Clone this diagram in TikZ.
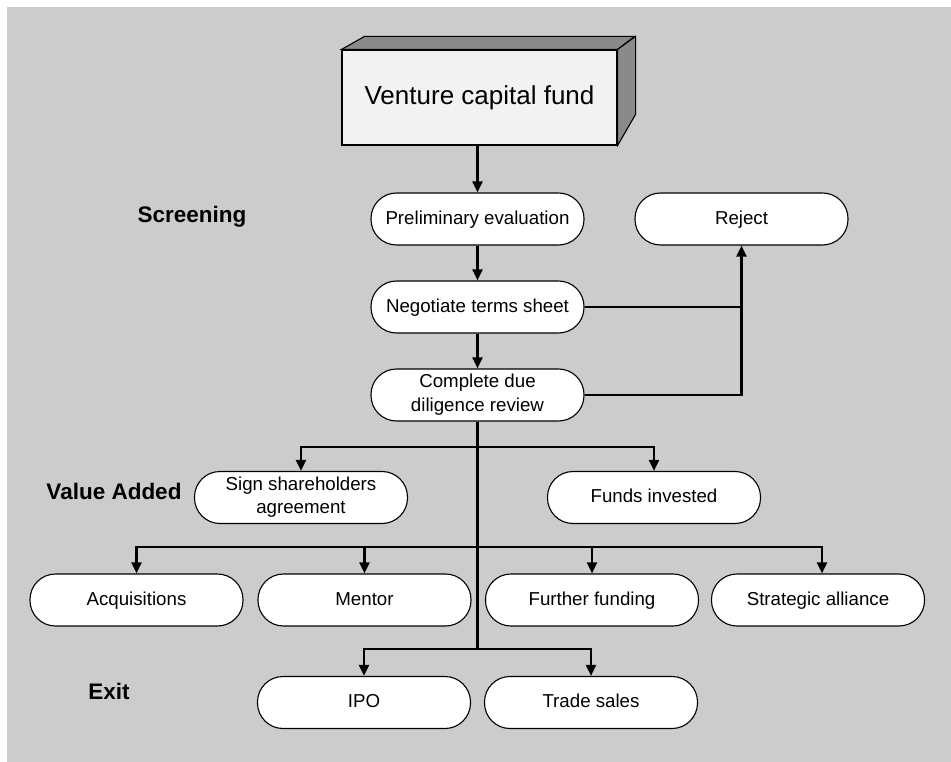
\documentclass[tikz,border=0pt]{standalone}
\usepackage{fontspec}
\setmainfont{Liberation Sans}
\usetikzlibrary{arrows.meta,calc}
\definecolor{bg}{HTML}{CCCCCC}
\definecolor{frontface}{HTML}{F2F2F2}
\definecolor{sideface}{HTML}{8A8A8A}
\newcommand\mytopstrut{\rule{0pt}{15pt}}
\newcommand\mybotstrut{\rule[-4.5pt]{0pt}{4.5pt}}
\tikzset{
  pill/.style={draw=black, line width=1.1pt, fill=white, rounded corners=25.5pt,
    minimum width=213pt, minimum height=52pt, inner sep=0pt, align=center,
    font=\fontsize{18.7}{23.5}\selectfont,
    execute at begin node=\mytopstrut, execute at end node=\mybotstrut},
  phase/.style={font=\fontsize{22.5}{26}\selectfont\bfseries},
  link/.style={line width=2.4pt, draw=black},
  arr/.style={link, -{Triangle[length=11pt,width=10pt]}},
}
\begin{document}
\begin{tikzpicture}[x=1pt,y=-1pt]
\useasboundingbox (0,0) rectangle (951,762);
\fill[white] (0,0) rectangle (951,762);
\fill[bg] (7,7) rectangle (951,762);

% 3D box
\node[draw=black, line width=1.1pt, fill=frontface, minimum width=275pt, minimum height=95pt,
      inner sep=0pt, font=\fontsize{26}{30}\selectfont] (vcf) at (479.5,97.5) {Venture capital fund};
\draw[line width=1.1pt, fill=sideface] (vcf.north west) -- ++(23,-13) -- ++(270,0) -- (vcf.north east) -- cycle;
\draw[line width=1.1pt, fill=sideface] (vcf.north east) -- ++(18,-13) -- ++(0,78) -- (vcf.south east) -- cycle;

% labels
\node[phase] (lscr) at (192,217) {Screening};
\node[phase] (lval) at (114,491) {Value Added};
\node[phase] (lexit) at (109,691) {Exit};

% boxes
\node[pill] (pre) at (477.5,219) {Preliminary evaluation};
\node[pill] (rej) at (741.5,219) {Reject};
\node[pill] (neg) at (477.5,307) {Negotiate terms sheet};
\node[pill] (cdd) at (477.5,395) {Complete due\\diligence review};
\node[pill] (sha) at (301,497.5) {Sign shareholders\\agreement};
\node[pill] (fun) at (654,497.5) {Funds invested};
\node[pill] (acq) at (136.5,600) {Acquisitions};
\node[pill] (men) at (364.5,600) {Mentor};
\node[pill] (fur) at (592,600) {Further funding};
\node[pill] (str) at (818,600) {Strategic alliance};
\node[pill] (ipo) at (364,702.5) {IPO};
\node[pill] (tra) at (591,702.5) {Trade sales};

% junctions
\coordinate (j1) at (477.5,447);
\coordinate (j2) at (477.5,547);
\coordinate (j3) at (477.5,649);

% connectors
\draw[arr] (pre.north |- vcf.south) -- (pre.north);
\draw[arr] (pre) -- (neg);
\draw[arr] (neg) -- (cdd);
\draw[link] (neg.east) -- (neg.east -| rej.south);
\draw[arr] (cdd.east) -| (rej.south);
\draw[link] (cdd.south) -- (j3);
\draw[arr] (j1) -| (sha.north);
\draw[arr] (j1) -| (fun.north);
\draw[arr] (j2) -| (acq.north);
\draw[arr] (j2) -| (men.north);
\draw[arr] (j2) -| (fur.north);
\draw[arr] (j2) -| ([xshift=4pt]str.north);
\draw[arr] (j3) -| (ipo.north);
\draw[arr] (j3) -| (tra.north);
\end{tikzpicture}
\end{document}
